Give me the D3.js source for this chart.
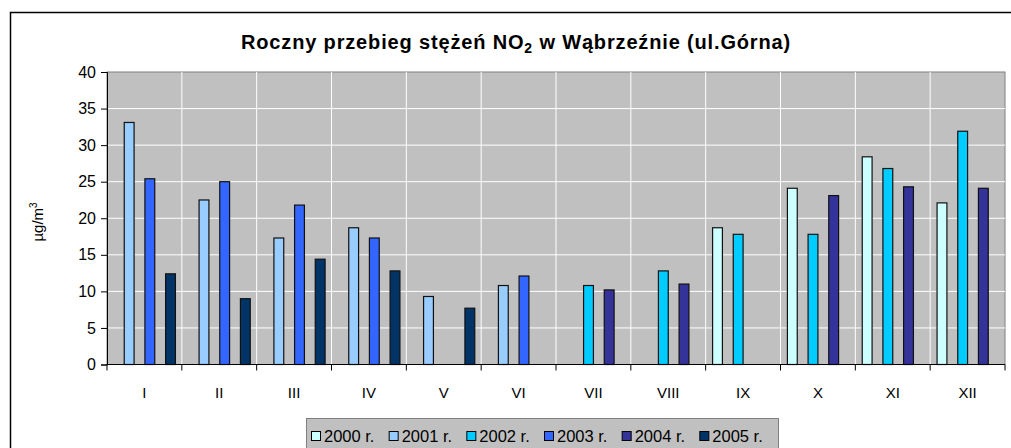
<!DOCTYPE html>
<html>
<head>
<meta charset="utf-8">
<script src="https://cdn.jsdelivr.net/npm/d3@7"></script>
<style>
  body { margin: 0; background: #fff; }
  svg { display: block; font-family: "Liberation Sans", Arial, sans-serif; }
</style>
</head>
<body>
<div class="chart"></div>
<script>
const months = ["I", "II", "III", "IV", "V", "VI", "VII", "VIII", "IX", "X", "XI", "XII"];
const years = ["2000 r.", "2001 r.", "2002 r.", "2003 r.", "2004 r.", "2005 r."];
const colors = ["#ccffff", "#99ccff", "#00ccff", "#3366ff", "#333399", "#003366"];

// null = no measurement that month
const v2000 = [null, null, null, null, null, null, null, null, 18.7, 24.1, 28.4, 22.1];
const v2001 = [33.1, 22.5, 17.3, 18.7, 9.3, 10.8, null, null, null, null, null, null];
const v2002 = [null, null, null, null, null, null, 10.8, 12.8, 17.8, 17.8, 26.8, 31.9];
const v2003 = [25.4, 25.0, 21.8, 17.3, null, 12.1, null, null, null, null, null, null];
const v2004 = [null, null, null, null, null, null, 10.2, 11.0, null, 23.1, 24.3, 24.1];
const v2005 = [12.4, 9.0, 14.4, 12.8, 7.7, null, null, null, null, null, null, null];
const yTicks = [0, 5, 10, 15, 20, 25, 30, 35, 40];

const series = [v2000, v2001, v2002, v2003, v2004, v2005];

const W = 1011, H = 448;
const plot = { left: 107, right: 1005, top: 72, bottom: 364.5 };

const svg = d3.select(".chart")
    .append("svg")
        .attr("width", W)
        .attr("height", H);

// outer chart frame (runs off the bottom/right of the picture)
svg.append("rect")
    .attr("x", 10.5).attr("y", 12.5)
    .attr("width", 1010).attr("height", 460)
    .attr("fill", "#fff")
    .attr("stroke", "#000")
    .attr("stroke-width", 1.5);

const x0 = d3.scaleBand()
    .domain(months)
    .range([plot.left, plot.right])
    .padding(0);

const x1 = d3.scaleBand()
    .domain(years)
    .range([0, x0.bandwidth()])
    .paddingInner(0)
    .paddingOuter(0.62);

const y = d3.scaleLinear()
    .domain([0, 40])
    .range([plot.bottom, plot.top]);

// plot background
svg.append("rect")
    .attr("x", plot.left).attr("y", plot.top)
    .attr("width", plot.right - plot.left)
    .attr("height", plot.bottom - plot.top)
    .attr("fill", "#c0c0c0")
    .attr("stroke", "#808080");

// horizontal grid
svg.append("g")
    .selectAll("line")
    .data(yTicks.filter(d => d > 0 && d < 40))
    .join("line")
    .attr("x1", plot.left).attr("x2", plot.right)
    .attr("y1", d => y(d)).attr("y2", d => y(d))
    .attr("stroke", "#fff")
    .attr("stroke-width", 1);

// vertical grid at category boundaries
svg.append("g")
    .selectAll("line")
    .data(months.slice(1))
    .join("line")
    .attr("x1", d => x0(d)).attr("x2", d => x0(d))
    .attr("y1", plot.top).attr("y2", plot.bottom)
    .attr("stroke", "#fff")
    .attr("stroke-width", 1);

// bars
const rows = [];
series.forEach((vals, si) => {
    vals.forEach((v, mi) => {
        if (v != null) rows.push({ month: months[mi], year: years[si], value: v, color: colors[si] });
    });
});

svg.append("g")
    .selectAll(".bar")
    .data(rows)
    .join("rect")
    .attr("class", "bar")
    .attr("x", d => x0(d.month) + x1(d.year) + 0.5)
    .attr("y", d => y(d.value))
    .attr("width", x1.bandwidth() - 0.5)
    .attr("height", d => y(0) - y(d.value))
    .attr("fill", d => d.color)
    .attr("stroke", "#111")
    .attr("stroke-width", 1.2);

// y axis
const yAxis = svg.append("g")
    .attr("transform", `translate(${plot.left},0)`)
    .call(d3.axisLeft(y).tickValues(yTicks).tickSize(6).tickPadding(5));
yAxis.select(".domain").attr("stroke", "#000");
yAxis.selectAll(".tick line").attr("stroke", "#000");
yAxis.selectAll("text")
    .attr("font-size", 16)
    .attr("font-family", "Liberation Sans, Arial, sans-serif")
    .attr("fill", "#000");

// x axis: ticks at category boundaries
const xAxisG = svg.append("g");
xAxisG.append("line")
    .attr("x1", plot.left).attr("x2", plot.right)
    .attr("y1", plot.bottom).attr("y2", plot.bottom)
    .attr("stroke", "#000");
xAxisG.selectAll(".xt")
    .data(months.concat(["end"]))
    .join("line")
    .attr("class", "xt")
    .attr("x1", (d, i) => plot.left + i * x0.bandwidth())
    .attr("x2", (d, i) => plot.left + i * x0.bandwidth())
    .attr("y1", plot.bottom).attr("y2", plot.bottom + 6)
    .attr("stroke", "#000");
xAxisG.selectAll(".xl")
    .data(months)
    .join("text")
    .attr("class", "xl")
    .attr("x", d => x0(d) + x0.bandwidth() / 2)
    .attr("y", 398)
    .attr("text-anchor", "middle")
    .attr("font-size", 15)
    .text(d => d);

// y axis title
const yt = svg.append("text")
    .attr("transform", "translate(43,222) rotate(-90)")
    .attr("text-anchor", "middle")
    .attr("font-size", 15);
yt.append("tspan").text("µg/m");
yt.append("tspan").attr("font-size", 10).attr("dy", -6).text("3");

// title
const title = svg.append("text")
    .attr("x", 516).attr("y", 49)
    .attr("text-anchor", "middle")
    .attr("font-size", 20)
    .attr("font-weight", "bold");
title.append("tspan").text("Roczny przebieg stężeń NO");
title.append("tspan").attr("font-size", 14).attr("dy", 4).text("2");
title.append("tspan").attr("dy", -4).text(" w Wąbrzeźnie (ul.Górna)");
// stretch a little so it spans like the original
const tLen = title.node().getComputedTextLength();
const nChars = "Roczny przebieg stężeń NO2 w Wąbrzeźnie (ul.Górna)".length;
title.attr("letter-spacing", Math.max(0, (550 - tLen) / nChars));

// legend
const legend = svg.append("g");
legend.append("rect")
    .attr("x", 306.5).attr("y", 418.5)
    .attr("width", 472).attr("height", 40)
    .attr("fill", "#c0c0c0")
    .attr("stroke", "#808080");

const itemX = d3.scaleBand()
    .domain(years)
    .range([311, 777]);

const items = legend.selectAll(".li")
    .data(years)
    .join("g")
    .attr("class", "li")
    .attr("transform", d => `translate(${itemX(d)},0)`);
items.append("rect")
    .attr("x", 0.5).attr("y", 431.5)
    .attr("width", 9).attr("height", 9)
    .attr("fill", (d, i) => colors[i])
    .attr("stroke", "#000");
items.append("text")
    .attr("x", 13).attr("y", 442)
    .attr("font-size", 16.5)
    .text(d => d);
</script>
</body>
</html>
